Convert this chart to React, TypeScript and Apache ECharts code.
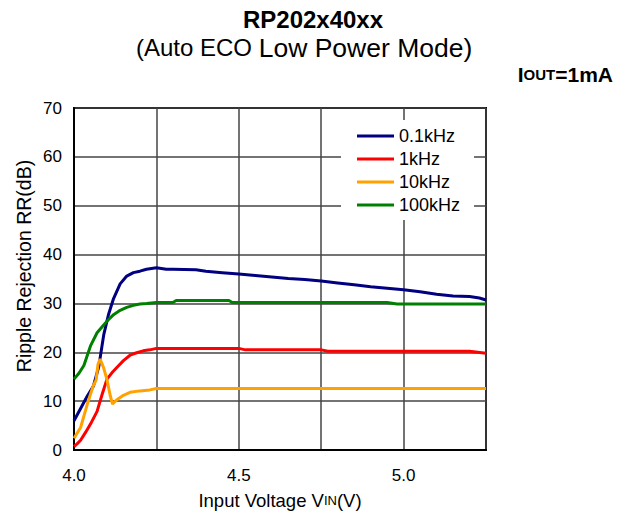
import React, { useEffect, useRef } from "react";
import * as echarts from "echarts";

const seriesNames = ["0.1kHz", "1kHz", "10kHz", "100kHz"];
const seriesColors = ["#000080", "#ff0000", "#ffa200", "#008000"];

const vin01k = [4.0, 4.02, 4.04, 4.059, 4.075, 4.09, 4.105, 4.12, 4.14, 4.16, 4.18, 4.2, 4.22, 4.25, 4.28, 4.3, 4.37, 4.4, 4.45, 4.5, 4.55, 4.6, 4.65, 4.7, 4.75, 4.8, 4.85, 4.9, 4.95, 5.0, 5.05, 5.1, 5.15, 5.2, 5.23, 5.25];
const rr01k = [6.0, 8.5, 11.0, 13.1, 17.0, 23.5, 27.8, 31.0, 34.0, 35.6, 36.3, 36.6, 37.0, 37.3, 37.0, 37.0, 36.9, 36.6, 36.3, 36.0, 35.7, 35.4, 35.1, 34.9, 34.6, 34.2, 33.8, 33.4, 33.1, 32.8, 32.4, 31.9, 31.5, 31.4, 31.1, 30.7];

const vin1k = [4.0, 4.01, 4.02, 4.035, 4.05, 4.07, 4.085, 4.1, 4.115, 4.13, 4.15, 4.17, 4.19, 4.21, 4.23, 4.25, 4.5, 4.52, 4.75, 4.77, 5.2, 5.25];
const rr1k = [0.7, 1.3, 2.0, 3.6, 5.3, 7.9, 11.3, 14.5, 15.8, 16.9, 18.3, 19.4, 19.9, 20.3, 20.5, 20.8, 20.8, 20.5, 20.5, 20.2, 20.2, 19.8];

const vin10k = [4.0, 4.02, 4.04, 4.058, 4.067, 4.073, 4.079, 4.09, 4.1, 4.11, 4.117, 4.13, 4.15, 4.17, 4.2, 4.23, 4.25, 5.25];
const rr10k = [2.4, 4.6, 9.3, 13.1, 14.3, 17.6, 18.6, 16.8, 14.4, 11.1, 9.4, 10.3, 11.2, 11.8, 12.1, 12.3, 12.6, 12.6];

const vin100k = [4.0, 4.015, 4.03, 4.05, 4.07, 4.09, 4.105, 4.12, 4.14, 4.16, 4.18, 4.2, 4.22, 4.25, 4.3, 4.31, 4.47, 4.48, 4.75, 4.95, 4.98, 5.25];
const rr100k = [14.5, 15.7, 17.3, 21.3, 24.0, 25.6, 26.7, 27.7, 28.6, 29.2, 29.6, 29.9, 30.0, 30.2, 30.2, 30.6, 30.6, 30.2, 30.2, 30.2, 29.9, 29.9];

const xLabels = ["4.0", "4.5", "5.0"];

const FONT = "'Liberation Sans', Arial, sans-serif";

function pairs(xs: number[], ys: number[]) {
  return xs.map((x, i) => [x, ys[i]]);
}

export default function App() {
  const ref = useRef<HTMLDivElement>(null);
  useEffect(() => {
    if (!ref.current) return;
    const chart = echarts.init(ref.current, undefined, { renderer: "svg" });
    const dataSets = [
      pairs(vin01k, rr01k),
      pairs(vin1k, rr1k),
      pairs(vin10k, rr10k),
      pairs(vin100k, rr100k),
    ];
    chart.setOption({
      animation: false,
      backgroundColor: "#ffffff",
      textStyle: { fontFamily: FONT },
      grid: {
        left: 74,
        right: 140,
        top: 108,
        bottom: 57,
        show: true,
        borderColor: "#000",
        borderWidth: 2,
      },
      legend: {
        orient: "vertical",
        left: 341,
        top: 120,
        padding: [6, 14, 5, 16],
        backgroundColor: "#ffffff",
        icon: "rect",
        itemWidth: 37,
        itemHeight: 3,
        itemGap: 3,
        data: seriesNames,
        textStyle: { fontSize: 18, lineHeight: 20, color: "#000", fontFamily: FONT },
      },
      xAxis: {
        type: "value",
        min: 4.0,
        max: 5.25,
        interval: 0.25,
        name: "{a|Input Voltage V}{b|IN}{a|(V)}",
        nameLocation: "middle",
        nameGap: 41,
        nameTextStyle: {
          rich: {
            a: { fontSize: 18.5, fontFamily: FONT, color: "#000" },
            b: { fontSize: 13, fontFamily: FONT, color: "#000" },
          },
        },
        axisLine: { show: true, lineStyle: { color: "#000", width: 2 } },
        axisTick: { show: false },
        splitLine: { show: true, lineStyle: { color: "#444", width: 1.5 } },
        axisLabel: {
          fontSize: 17,
          color: "#000",
          margin: 17,
          fontFamily: FONT,
          formatter: (v: number) => {
            const s = v.toFixed(1);
            return xLabels.includes(s) && Math.abs(v * 2 - Math.round(v * 2)) < 1e-6 ? s : "";
          },
        },
      },
      yAxis: {
        type: "value",
        min: 0,
        max: 70,
        interval: 10,
        axisLine: { show: true, lineStyle: { color: "#000", width: 2 } },
        axisTick: { show: false },
        splitLine: { show: true, lineStyle: { color: "#444", width: 1.5 } },
        axisLabel: { fontSize: 17, color: "#000", margin: 12, fontFamily: FONT },
      },
      graphic: [
        {
          type: "text",
          left: "center",
          top: 7,
          style: {
            text: "RP202x40xx",
            font: `bold 24px ${FONT}`,
            fill: "#000",
          },
        },
        {
          type: "text",
          left: 136,
          top: 34,
          style: {
            text: "{s|(Auto ECO }{l|Low Power Mode)}",
            rich: {
              s: { fontSize: 24, fontFamily: FONT, fill: "#000" },
              l: { fontSize: 26.5, fontFamily: FONT, fill: "#000" },
            },
          },
        },
        {
          type: "text",
          right: 13,
          top: 64,
          style: {
            text: "{a|I}{b|OUT}{a|=1mA}",
            rich: {
              a: { fontSize: 21, fontWeight: "bold", fontFamily: FONT, fill: "#000" },
              b: { fontSize: 15, fontWeight: "bold", fontFamily: FONT, fill: "#000" },
            },
          },
        },
        {
          type: "text",
          x: 24,
          y: 266,
          rotation: Math.PI / 2,
          style: {
            text: "Ripple Rejection RR(dB)",
            font: `19.5px ${FONT}`,
            fill: "#000",
            align: "center",
            verticalAlign: "middle",
          },
        },
      ],
      series: seriesNames.map((name, i) => ({
        name,
        type: "line",
        data: dataSets[i],
        showSymbol: false,
        symbol: "none",
        smooth: false,
        lineStyle: { color: seriesColors[i], width: 3 },
        itemStyle: { color: seriesColors[i] },
      })),
    });
    return () => chart.dispose();
  }, []);
  return (
    <div
      ref={ref}
      style={{ position: "absolute", left: 0, top: 0, width: 626, height: 515 }}
    />
  );
}
